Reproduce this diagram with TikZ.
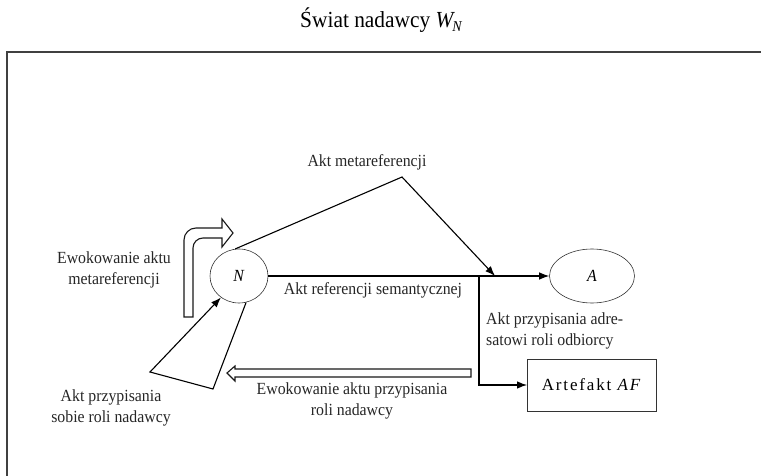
\documentclass[tikz,border=0pt]{standalone}
\usepackage{fontspec}
\setmainfont{Liberation Serif}[FakeStretch=0.93]
\newfontfamily\spacedfont{Liberation Serif}[LetterSpace=11]
\usetikzlibrary{arrows.meta,shapes.geometric}

\begin{document}
\begin{tikzpicture}[x=1pt,y=-1pt]
\tikzstyle{txt}=[font=\fontsize{17}{21}\selectfont, text=black!85, align=center, inner sep=0pt]
\tikzstyle{actor}=[draw=black!80, line width=0.6pt, shape=ellipse, inner sep=0pt, font=\fontsize{17}{21}\selectfont]
\tikzstyle{act}=[line width=1.1pt, line join=miter, -{Latex[length=10pt,width=7.5pt]}]
\tikzstyle{hollow}=[draw=black!90, line width=1.1pt, fill=white]
\useasboundingbox (0,0) rectangle (761,476);
\draw[line width=1.6pt, black!75] (7,476) |- (761,52);
\path (381,20) node[font=\fontsize{23}{27}\selectfont](title){\'Swiat nadawcy \textit{W\kern-1pt\raisebox{-4pt}{\fontsize{15}{15}\selectfont N}}};

\path (239,276) node[actor, minimum width=58, minimum height=54](N){\textit{N}};
\path (592,276) node[actor, minimum width=85, minimum height=54](A){\textit{A}};
\path (592,385) node[draw=black!80, line width=0.8pt, minimum width=129, minimum height=52, font=\fontsize{17}{21}\selectfont](AF){\spacedfont Artefakt \textit{AF}};
\path (402,177) coordinate(apex) (495,276) coordinate(hit) (479,276) coordinate(fork);
\path (213,389) coordinate(selfA) (150,372) coordinate(selfB);

\draw[act] (N.east) -- (A.west);
\draw[act] (N.98) -- (apex) -- (hit);
\draw[act] (fork) |- (AF.west);
\draw[act] (N.-75) -- (selfA) -- (selfB) -- (N.-130);

% hollow arrows
\draw[hollow] (184,317) -- (184,240) to[out=90,in=180] (196,228) -- (222,228) -- (222,219) -- (233,233) -- (222,247) -- (222,238) -- (203,238) to[out=180,in=90] (193,248) -- (193,317) -- cycle;
\draw[hollow] (471,369) -- (235,369) -- (235,366) -- (227,373) -- (235,381) -- (235,377) -- (471,377) -- cycle;

\path (367,162) node[txt](metaLbl){Akt metareferencji};
\path (373,290) node[txt](semLbl){Akt referencji semantycznej};
\path (486,331) node[txt, align=left, anchor=west](adrLbl){Akt przypisania adre-\\satowi roli odbiorcy};
\path (114,270) node[txt](evMetaLbl){Ewokowanie aktu\\metareferencji};
\path (111,408) node[txt](selfLbl){Akt przypisania\\sobie roli nadawcy};
\path (352,401) node[txt](evSelfLbl){Ewokowanie aktu przypisania\\roli nadawcy};
\end{tikzpicture}
\end{document}
